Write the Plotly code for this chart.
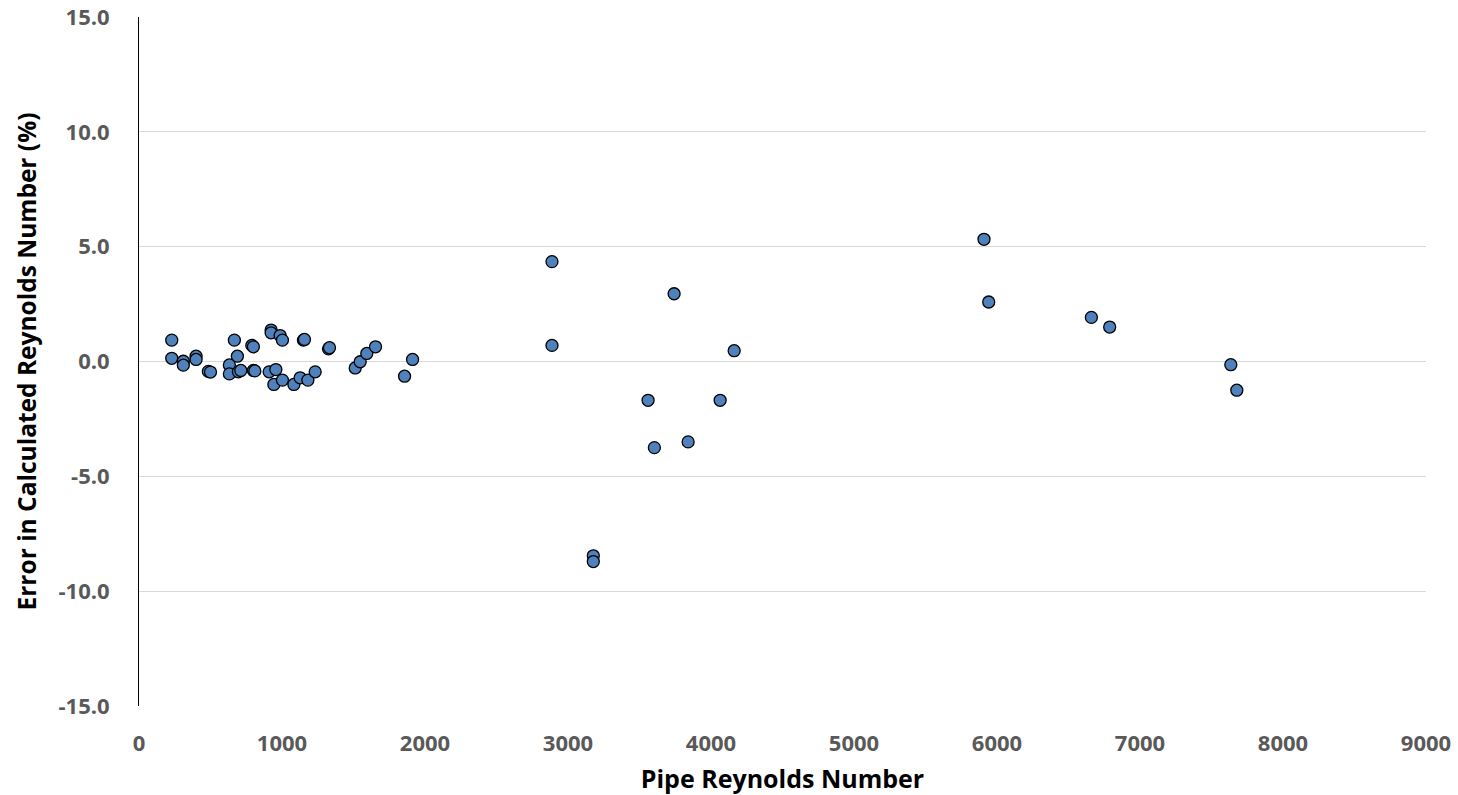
import plotly.graph_objects as go

re_pipe = [229, 229, 310, 310, 399, 399, 485, 500, 667, 688, 632, 632, 695, 712,
           789, 800, 800, 810, 924, 924, 987, 1003, 910, 957, 943, 1003, 1083, 1127,
           1181, 1232, 1150, 1157, 1325, 1332, 1512, 1547, 1593, 1654, 1857, 1913,
           2888, 2888, 3742, 4162, 3560, 4064, 3604, 3840, 3177, 3177,
           5909, 5942, 6660, 6788, 7635, 7677]
err_pct = [0.93, 0.14, 0.01, -0.16, 0.23, 0.09, -0.43, -0.46, 0.93, 0.23, -0.15, -0.54, -0.45, -0.39,
           0.70, 0.64, -0.39, -0.41, 1.37, 1.25, 1.13, 0.93, -0.45, -0.35, -1.00, -0.81, -1.00, -0.71,
           -0.81, -0.45, 0.93, 0.96, 0.55, 0.60, -0.28, -0.01, 0.35, 0.64, -0.64, 0.09,
           4.35, 0.70, 2.95, 0.47, -1.69, -1.69, -3.75, -3.50, -8.46, -8.71,
           5.32, 2.59, 1.92, 1.50, -0.14, -1.25]

x_ticks = [0, 1000, 2000, 3000, 4000, 5000, 6000, 7000, 8000, 9000]
y_ticks = [-15, -10, -5, 0, 5, 10, 15]

fig = go.Figure()
fig.add_trace(go.Scatter(
    x=re_pipe, y=err_pct, mode="markers",
    marker=dict(symbol="circle", size=12, color="#4F81BD",
                line=dict(color="black", width=1.3)),
    showlegend=False,
))

tick_font = dict(family="Open Sans", size=22, color="#595959", weight="bold")
title_font = dict(family="Open Sans", size=25, color="black", weight="bold")
ytitle_font = dict(family="Open Sans", size=24.5, color="black", weight="bold")

fig.update_layout(
    width=1458, height=795,
    margin=dict(l=139, r=32, t=17, b=89),
    paper_bgcolor="white", plot_bgcolor="white",
    xaxis=dict(range=[0, 9000], tickvals=x_ticks, ticktext=[str(v) for v in x_ticks],
               showgrid=False, zeroline=False, showline=False, automargin=False,
               tickfont=tick_font, ticks="", ticklabelstandoff=22,
               title=dict(text="Pipe Reynolds Number", font=title_font, standoff=14)),
    yaxis=dict(range=[-15, 15], tickvals=y_ticks, ticktext=[f"{v:.1f}" for v in y_ticks],
               showgrid=True, gridcolor="#d9d9d9", gridwidth=1, automargin=False,
               zeroline=False, showline=True, linecolor="black", linewidth=1,
               tickfont=tick_font, ticks="", ticklabelstandoff=24,
               title=dict(text="Error in Calculated Reynolds Number (%)", font=ytitle_font, standoff=14)),
)

fig.write_html("out.html")
